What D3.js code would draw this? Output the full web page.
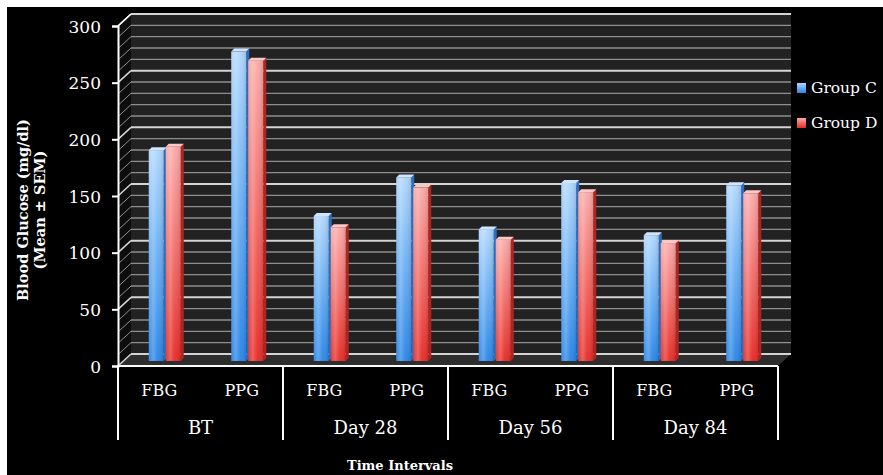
<!DOCTYPE html>
<html>
<head>
<meta charset="utf-8">
<script src="https://cdn.jsdelivr.net/npm/d3@7/dist/d3.min.js"></script>
<style>
  html, body { margin: 0; padding: 0; background: #ffffff; }
  svg { display: block; }
  text { font-family: "DejaVu Serif", "Liberation Serif", serif; fill: #ffffff; }
</style>
</head>
<body>
<svg id="chart" width="883" height="475"></svg>
<script>
// Blood glucose by time interval and test type
const timeIntervals = ["BT", "Day 28", "Day 56", "Day 84"];
const testTypes = ["FBG", "PPG"];
const groupNames = ["Group C", "Group D"];
// values in order: BT FBG, BT PPG, Day 28 FBG, Day 28 PPG, Day 56 FBG, Day 56 PPG, Day 84 FBG, Day 84 PPG
const groupC = [186, 273, 128, 162, 116, 157, 111, 155];
const groupD = [189, 265, 118, 153, 107, 149, 104, 148];
const yTicks = [0, 50, 100, 150, 200, 250, 300];
const yMinor = d3.range(0, 301, 10);

const svg = d3.select("#chart");

// black card
svg.append("rect").attr("x", 7).attr("y", 7).attr("width", 876).attr("height", 468).attr("fill", "#000");

const DX = 13, DY = -12;             // depth offset of the back wall
const x0 = 118, x1 = 778;
const y = d3.scaleLinear().domain([0, 300]).range([366, 26]);
const xGroup = d3.scaleBand().domain(timeIntervals).range([x0, x1]);
const xSub = d3.scaleBand().domain(testTypes).range([0, xGroup.bandwidth()]);

const defs = svg.append("defs");
function barGrad(id, top, mid, bottom) {
  const g = defs.append("linearGradient").attr("id", id).attr("x1", 0).attr("y1", 0).attr("x2", 0).attr("y2", 1);
  g.append("stop").attr("offset", "0%").attr("stop-color", top);
  g.append("stop").attr("offset", "45%").attr("stop-color", mid);
  g.append("stop").attr("offset", "100%").attr("stop-color", bottom);
}
barGrad("gBlue", "#b0d7fd", "#6fb2f5", "#2985e6");
barGrad("gRed", "#faaaa8", "#f3716d", "#e62b26");
// horizontal sheen
const sh = defs.append("linearGradient").attr("id", "sheen").attr("x1", 0).attr("y1", 0).attr("x2", 1).attr("y2", 0);
sh.append("stop").attr("offset", "0%").attr("stop-color", "#fff").attr("stop-opacity", 0.05);
sh.append("stop").attr("offset", "30%").attr("stop-color", "#fff").attr("stop-opacity", 0.25);
sh.append("stop").attr("offset", "60%").attr("stop-color", "#fff").attr("stop-opacity", 0.04);
sh.append("stop").attr("offset", "100%").attr("stop-color", "#000").attr("stop-opacity", 0.12);

// back wall
svg.append("rect").attr("x", x0 + DX).attr("y", y(300) + DY)
  .attr("width", x1 - x0).attr("height", y(0) - y(300)).attr("fill", "#222222");
// side wall
svg.append("path")
  .attr("d", `M${x0},${y(0)}L${x0},${y(300)}L${x0 + DX},${y(300) + DY}L${x0 + DX},${y(0) + DY}Z`)
  .attr("fill", "#0d0d0d");
// floor
svg.append("path")
  .attr("d", `M${x0},${y(0)}L${x0 + DX},${y(0) + DY}L${x1 + DX},${y(0) + DY}L${x1},${y(0)}Z`)
  .attr("fill", "#2e2e2e");

// gridlines on back wall and side wall
yMinor.forEach(v => {
  const major = v % 50 === 0;
  svg.append("line")
    .attr("x1", x0 + DX).attr("x2", x1 + DX)
    .attr("y1", y(v) + DY).attr("y2", y(v) + DY)
    .attr("stroke", major ? "#d4d4d4" : "#8e8e8e")
    .attr("stroke-width", major ? 2 : 1.3);
  svg.append("line")
    .attr("x1", x0).attr("x2", x0 + DX)
    .attr("y1", y(v)).attr("y2", y(v) + DY)
    .attr("stroke", major ? "#d4d4d4" : "#8e8e8e")
    .attr("stroke-width", major ? 1.5 : 1);
});

// bars
const BW = 15, GAP = 2, BD = 3;
const yBar = v => y(v) - 5;
function drawBar(cx, v, fill, side, cap, left) {
  const bx = left ? cx - GAP - BW : cx;
  const top = yBar(v), bottom = yBar(0);
  const g = svg.append("g");
  g.append("path")
    .attr("d", `M${bx + BW},${top}L${bx + BW + BD},${top - BD}L${bx + BW + BD},${bottom - BD}L${bx + BW},${bottom}Z`)
    .attr("fill", side);
  g.append("rect").attr("x", bx).attr("y", top).attr("width", BW).attr("height", bottom - top).attr("fill", `url(#${fill})`);
  g.append("rect").attr("x", bx).attr("y", top).attr("width", BW).attr("height", bottom - top).attr("fill", "url(#sheen)");
  g.append("path")
    .attr("d", `M${bx},${top}L${bx + BD},${top - BD}L${bx + BW + BD},${top - BD}L${bx + BW},${top}Z`)
    .attr("fill", cap);
}
let idx = 0;
timeIntervals.forEach(t => {
  testTypes.forEach(s => {
    const cx = xGroup(t) + xSub(s) + xSub.bandwidth() / 2 + DX / 2;
    drawBar(cx, groupC[idx], "gBlue", "#2c6dc0", "#cfe6ff", true);
    drawBar(cx, groupD[idx], "gRed", "#b32421", "#ffc6c3", false);
    idx++;
  });
});

// front edges
svg.append("line").attr("x1", x0).attr("x2", x1).attr("y1", y(0)).attr("y2", y(0))
  .attr("stroke", "#fff").attr("stroke-width", 2);
svg.append("line").attr("x1", x0).attr("x2", x0 + DX).attr("y1", y(300)).attr("y2", y(300) + DY)
  .attr("stroke", "#fff").attr("stroke-width", 1.5);

// value axis
const yAxis = svg.append("g").attr("transform", `translate(${x0},0)`)
  .call(d3.axisLeft(y).tickValues(yTicks).tickSize(6).tickPadding(11).tickFormat(d3.format("d")));
yAxis.select(".domain").attr("stroke", "#fff").attr("stroke-width", 2);
yAxis.selectAll(".tick line").attr("stroke", "#fff").attr("stroke-width", 2);
yAxis.selectAll(".tick text").attr("fill", "#fff").style("font-size", "17px")
  .style("font-family", "'DejaVu Serif', serif").attr("dy", "0.36em");

// category separators
const sepY0 = y(0), sepY1 = 440;
timeIntervals.concat(["end"]).forEach((t, i) => {
  const xs = i < timeIntervals.length ? xGroup(t) : x1;
  svg.append("line").attr("x1", xs).attr("x2", xs).attr("y1", sepY0).attr("y2", sepY1)
    .attr("stroke", "#fff").attr("stroke-width", 2);
});

// category labels
timeIntervals.forEach(t => {
  testTypes.forEach(s => {
    svg.append("text")
      .attr("x", xGroup(t) + xSub(s) + xSub.bandwidth() / 2).attr("y", 396)
      .attr("text-anchor", "middle").style("font-size", "16px").text(s);
  });
  svg.append("text")
    .attr("x", xGroup(t) + xGroup.bandwidth() / 2).attr("y", 434)
    .attr("text-anchor", "middle").style("font-size", "18px").text(t);
});

// axis titles
svg.append("text").attr("x", 400).attr("y", 470).attr("text-anchor", "middle")
  .style("font-size", "13px").style("font-weight", "bold").text("Time Intervals");
const yt = svg.append("text").attr("transform", "translate(28,210) rotate(-90)")
  .attr("text-anchor", "middle").style("font-size", "14.5px").style("font-weight", "bold");
yt.append("tspan").attr("x", 0).attr("y", 0).text("Blood Glucose (mg/dl)");
yt.append("tspan").attr("x", 0).attr("y", 17).text("(Mean ± SEM)");

// legend
const legendFills = ["gBlue", "gRed"];
groupNames.forEach((name, i) => {
  const ly = 88 + i * 35;
  svg.append("rect").attr("x", 797).attr("y", ly - 5).attr("width", 9).attr("height", 10)
    .attr("fill", `url(#${legendFills[i]})`);
  svg.append("text").attr("x", 811).attr("y", ly).attr("dy", "0.35em")
    .style("font-size", "15.5px").text(name);
});
</script>
</body>
</html>
